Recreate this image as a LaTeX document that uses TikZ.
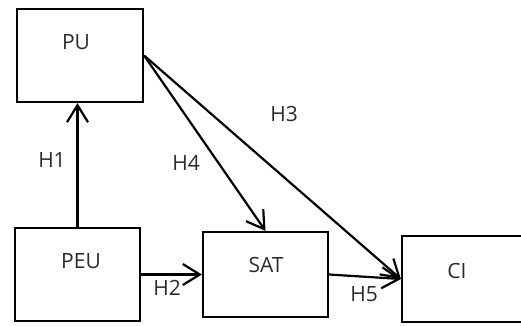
\documentclass[tikz,border=0pt]{standalone}
\usepackage{fontspec}
\setmainfont{Open Sans}
\usetikzlibrary{arrows.meta}
\definecolor{txt}{HTML}{2B2B2B}
\tikzset{
  box/.style={draw=black, line width=2.2pt, rectangle, inner sep=0pt},
  lbl/.style={font=\fontsize{21}{25}\selectfont, text=txt, inner sep=0pt},
  arr/.style={draw=black, line width=2.2pt,
    -{Straight Barb[length=17pt, width=21pt, line width=2.2pt]}}
}
\begin{document}
\begin{tikzpicture}[x=1pt, y=-1pt]
  \useasboundingbox (0,0) rectangle (521,325);
  % boxes
  \node[box, minimum width=126pt, minimum height=93pt] (pu)  at (80,55.5)   {};
  \node[box, minimum width=125pt, minimum height=93pt] (peu) at (77.5,274.5) {};
  \node[box, minimum width=125pt, minimum height=85pt] (sat) at (265.5,274.5) {};
  \node[box, minimum width=122pt, minimum height=86pt] (ci)  at (463,279)   {};
  % box titles
  \node[lbl] (put)  at (76,42)   {PU};
  \node[lbl] (peut) at (81,261)  {PEU};
  \node[lbl] (satt) at (266,265) {SAT};
  \node[lbl] (cit)  at (457,271) {CI};
  % paths
  \draw[arr] (peu.north) -- (peu.north |- pu.south);
  \draw[arr] (peu.east) -- (sat.west);
  \draw[arr] (pu.east) -- (sat.north);
  \draw[arr] (pu.east) -- (ci.west);
  \draw[arr] (sat.east) -- (ci.west);
  % path labels
  \node[lbl] (h1) at (52,160)    {H1};
  \node[lbl] (h2) at (167,288)   {H2};
  \node[lbl] (h3) at (284,113.5) {H3};
  \node[lbl] (h4) at (186,162.5) {H4};
  \node[lbl] (h5) at (364,294)   {H5};
\end{tikzpicture}
\end{document}
